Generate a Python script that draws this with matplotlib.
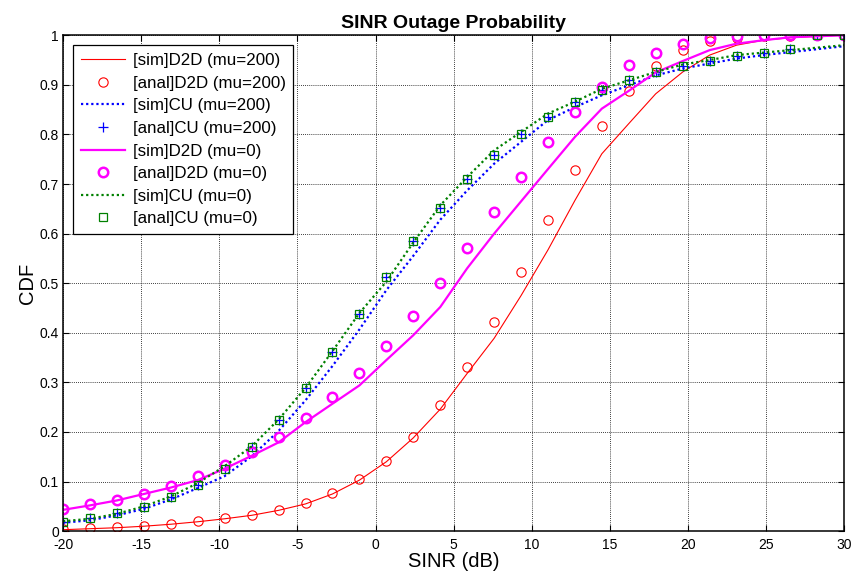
import matplotlib
matplotlib.use("Agg")
import matplotlib.pyplot as plt

plt.rcParams['font.family'] = ['Liberation Sans', 'DejaVu Sans']
plt.rcParams['axes.unicode_minus'] = False

# SINR grid (dB), 30 points from -20 to 30
sinr = [-20.0, -18.28, -16.55, -14.83, -13.10, -11.38, -9.66, -7.93, -6.21, -4.48,
        -2.76, -1.03, 0.69, 2.41, 4.14, 5.86, 7.59, 9.31, 11.03, 12.76,
        14.48, 16.21, 17.93, 19.66, 21.38, 23.10, 24.83, 26.55, 28.28, 30.0]

sim_d2d_200 = [0.003, 0.005, 0.007, 0.010, 0.014, 0.019, 0.025, 0.032, 0.042, 0.055,
               0.075, 0.103, 0.140, 0.188, 0.246, 0.318, 0.389, 0.475, 0.567, 0.667,
               0.761, 0.822, 0.882, 0.926, 0.960, 0.980, 0.990, 0.995, 0.998, 1.0]
anal_d2d_200 = [0.005, 0.006, 0.008, 0.011, 0.015, 0.020, 0.026, 0.032, 0.042, 0.056,
                0.077, 0.105, 0.141, 0.190, 0.254, 0.332, 0.422, 0.522, 0.628, 0.728,
                0.817, 0.888, 0.939, 0.970, 0.988, 0.995, 0.998, 0.999, 1.0, 1.0]
sim_cu_200 = [0.017, 0.022, 0.032, 0.045, 0.064, 0.087, 0.111, 0.151, 0.202, 0.264,
              0.333, 0.407, 0.486, 0.555, 0.628, 0.687, 0.741, 0.785, 0.829, 0.855,
              0.879, 0.899, 0.919, 0.933, 0.943, 0.953, 0.960, 0.966, 0.972, 0.978]
anal_cu = [0.019, 0.026, 0.036, 0.049, 0.069, 0.093, 0.126, 0.170, 0.224, 0.288,
           0.362, 0.437, 0.513, 0.585, 0.651, 0.710, 0.758, 0.800, 0.835, 0.866,
           0.890, 0.909, 0.926, 0.938, 0.948, 0.958, 0.965, 0.972, 1.0, 1.0]
sim_d2d_0 = [0.043, 0.052, 0.062, 0.075, 0.088, 0.103, 0.126, 0.152, 0.179, 0.220,
             0.257, 0.294, 0.345, 0.395, 0.452, 0.530, 0.600, 0.665, 0.730, 0.795,
             0.852, 0.888, 0.925, 0.948, 0.970, 0.983, 0.990, 0.996, 0.998, 1.0]
anal_d2d_0 = [0.044, 0.054, 0.063, 0.075, 0.091, 0.111, 0.133, 0.160, 0.190, 0.228,
              0.271, 0.318, 0.374, 0.434, 0.500, 0.571, 0.644, 0.714, 0.784, 0.845,
              0.896, 0.940, 0.965, 0.983, 0.995, 0.998, 1.0, 1.0, 1.0, 1.0]
sim_cu_0 = [0.020, 0.025, 0.035, 0.050, 0.070, 0.097, 0.131, 0.171, 0.225, 0.289,
            0.363, 0.440, 0.503, 0.582, 0.657, 0.714, 0.768, 0.805, 0.842, 0.866,
            0.892, 0.909, 0.926, 0.941, 0.950, 0.960, 0.965, 0.970, 0.975, 0.980]

green = '#008000'
dots = (0, (1, 1.3))

fig = plt.figure(figsize=(8.52, 5.78), dpi=100)
ax = fig.add_axes([0.074, 0.081, 0.917, 0.858])

ax.plot(sinr, sim_d2d_200, color='red', lw=0.8, label='[sim]D2D (mu=200)')
ax.plot(sinr, anal_d2d_200, 'o', color='red', mfc='none', ms=6.7, mew=0.8,
        label='[anal]D2D (mu=200)')
ax.plot(sinr, sim_cu_200, color='blue', lw=1.6, ls=dots, label='[sim]CU (mu=200)')
ax.plot(sinr, anal_cu, '+', color='blue', ms=6.5, mew=0.9, label='[anal]CU (mu=200)')
ax.plot(sinr, sim_d2d_0, color='magenta', lw=1.6, label='[sim]D2D (mu=0)')
ax.plot(sinr, anal_d2d_0, 'o', color='magenta', mfc='none', ms=6.8, mew=1.8,
        label='[anal]D2D (mu=0)')
ax.plot(sinr, sim_cu_0, color=green, lw=1.6, ls=dots, label='[sim]CU (mu=0)')
ax.plot(sinr, anal_cu, 's', color=green, mfc='none', ms=5.8, mew=0.9,
        label='[anal]CU (mu=0)')

ax.set_xlim(-20, 30)
ax.set_ylim(0, 1)
ax.set_xticks(range(-20, 31, 5))
ax.set_yticks([i / 10 for i in range(11)])
ax.set_yticklabels(['0', '0.1', '0.2', '0.3', '0.4', '0.5', '0.6', '0.7', '0.8', '0.9', '1'])
ax.grid(True, color='black', ls=(0, (1, 1.5)), lw=0.6)
ax.tick_params(direction='in', length=4.5, width=0.8, top=True, right=True,
               labelsize=10, pad=3)
ax.tick_params(axis='x', pad=5)
for s in ax.spines.values():
    s.set_linewidth(1.1)

ax.set_xlabel('SINR (dB)', fontsize=14.5, labelpad=0)
ax.set_ylabel('CDF', fontsize=14.5, labelpad=2)
ax.set_title('SINR Outage Probability', fontsize=14, fontweight='bold', pad=5)

leg = ax.legend(loc='upper left', fontsize=12.2, fancybox=False, edgecolor='black',
                framealpha=1, handlelength=2.6, borderaxespad=0.6, labelspacing=0.45,
                handletextpad=0.45, borderpad=0.45)
leg.get_frame().set_linewidth(0.9)

fig.savefig('out.png', dpi=100)
